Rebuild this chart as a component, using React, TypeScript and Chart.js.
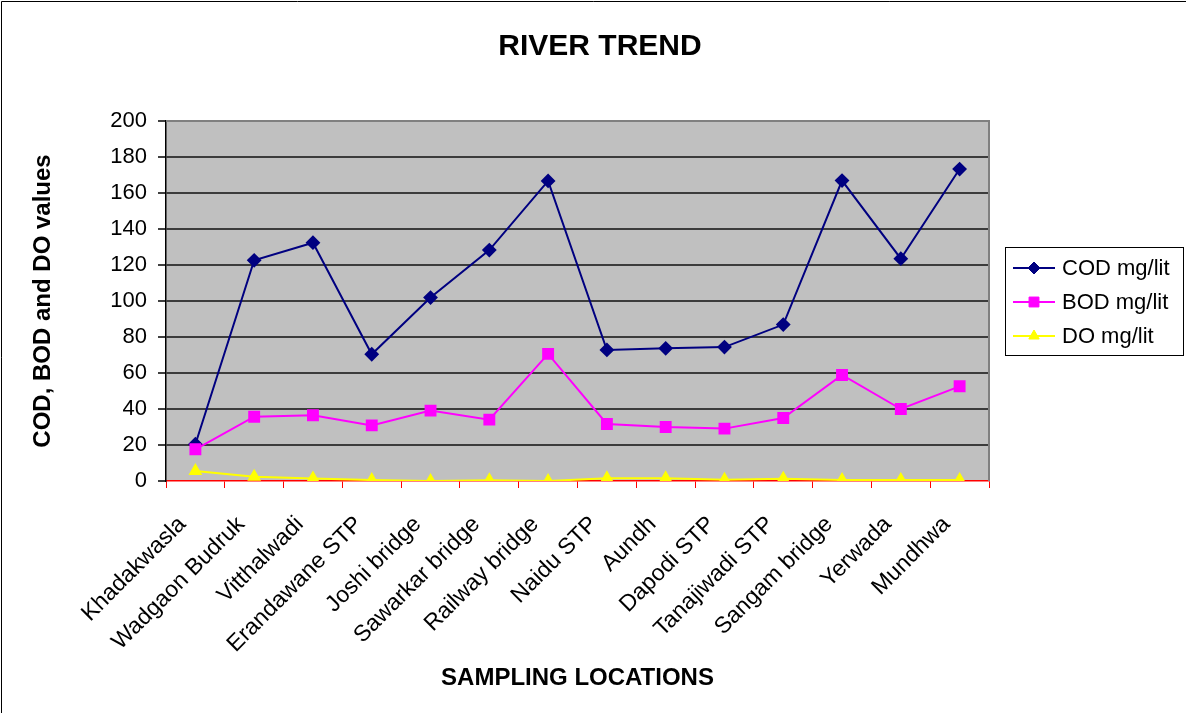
import { useEffect, useRef } from "react";
import { Chart, registerables } from "chart.js";

Chart.register(...registerables);

const categories = [
  "Khadakwasla",
  "Wadgaon Budruk",
  "Vitthalwadi",
  "Erandawane STP",
  "Joshi bridge",
  "Sawarkar bridge",
  "Railway bridge",
  "Naidu STP",
  "Aundh",
  "Dapodi STP",
  "Tanajiwadi STP",
  "Sangam bridge",
  "Yerwada",
  "Mundhwa",
];

const codValues = [20.4, 122.6, 132.4, 70.4, 101.9, 128.3, 166.7, 72.8, 73.7, 74.4, 86.9, 166.9, 123.5, 173.3];
const bodValues = [17.6, 35.7, 36.5, 30.9, 39.1, 34.1, 70.6, 31.7, 30.0, 29.1, 35.0, 58.9, 40.0, 52.6];
const doValues = [5.5, 2.4, 1.4, 0.5, 0.0, 0.4, 0.0, 1.5, 1.5, 0.7, 1.3, 0.6, 0.6, 0.6];

const seriesNames = ["COD mg/lit", "BOD mg/lit", "DO mg/lit"];
const yMin = 0;
const yMax = 200;
const yStep = 20;

const FONT = "'Liberation Sans', Arial, Helvetica, sans-serif";

function drawMarker(ctx: CanvasRenderingContext2D, style: string, r: number, x: number, y: number) {
  ctx.beginPath();
  if (style === "rectRot") {
    ctx.moveTo(x - r, y);
    ctx.lineTo(x, y - r);
    ctx.lineTo(x + r, y);
    ctx.lineTo(x, y + r);
    ctx.closePath();
  } else if (style === "rect") {
    const s = Math.SQRT1_2 * r;
    ctx.rect(x - s, y - s, 2 * s, 2 * s);
  } else {
    let rad = 0;
    ctx.moveTo(x + Math.sin(rad) * r, y - Math.cos(rad) * r);
    rad += (2 * Math.PI) / 3;
    ctx.lineTo(x + Math.sin(rad) * r, y - Math.cos(rad) * r);
    rad += (2 * Math.PI) / 3;
    ctx.lineTo(x + Math.sin(rad) * r, y - Math.cos(rad) * r);
    ctx.closePath();
  }
  ctx.fill();
  ctx.stroke();
}

export default function App() {
  const ref = useRef<HTMLCanvasElement>(null);

  useEffect(() => {
    document.body.style.margin = "0";
    const canvas = ref.current;
    if (!canvas) return;

    const decor = {
      id: "decor",
      beforeDraw(chart: any) {
        const { ctx, chartArea: a } = chart;
        ctx.save();
        ctx.fillStyle = "#ffffff";
        ctx.fillRect(0, 0, chart.width, chart.height);
        ctx.fillStyle = "#C0C0C0";
        ctx.fillRect(a.left, a.top, a.right - a.left, a.bottom - a.top);
        ctx.restore();
      },
      beforeDatasetsDraw(chart: any) {
        const { ctx, chartArea: a } = chart;
        ctx.save();
        ctx.strokeStyle = "#808080";
        ctx.lineWidth = 2;
        ctx.beginPath();
        ctx.moveTo(a.left, a.top);
        ctx.lineTo(a.right, a.top);
        ctx.lineTo(a.right, a.bottom);
        ctx.stroke();
        ctx.restore();
      },
      afterDraw(chart: any) {
        const { ctx } = chart;
        ctx.save();
        // outer frame (top & left visible)
        ctx.strokeStyle = "#000";
        ctx.lineWidth = 1;
        ctx.beginPath();
        ctx.moveTo(1.5, chart.height);
        ctx.lineTo(1.5, 1.5);
        ctx.lineTo(chart.width, 1.5);
        ctx.stroke();

        // legend
        const bx = 1005.5, by = 247.5, bw = 178, bh = 108;
        ctx.fillStyle = "#fff";
        ctx.fillRect(bx, by, bw, bh);
        ctx.strokeStyle = "#000";
        ctx.lineWidth = 1;
        ctx.strokeRect(bx, by, bw, bh);
        const rows = [268, 302, 336];
        chart.data.datasets.forEach((ds: any, i: number) => {
          const y = rows[i];
          ctx.strokeStyle = ds.borderColor;
          ctx.lineWidth = 2;
          ctx.beginPath();
          ctx.moveTo(1013, y);
          ctx.lineTo(1055, y);
          ctx.stroke();
          ctx.fillStyle = ds.pointBackgroundColor;
          ctx.strokeStyle = ds.pointBorderColor;
          ctx.lineWidth = 1;
          drawMarker(ctx, ds.pointStyle, ds.pointRadius, 1034, y);
          ctx.fillStyle = "#000";
          ctx.font = `22px ${FONT}`;
          ctx.textBaseline = "middle";
          ctx.textAlign = "left";
          ctx.fillText(ds.label, 1062, y + 1);
        });
        ctx.restore();
      },
    };

    const chart = new Chart(canvas, {
      type: "line",
      data: {
        labels: categories,
        datasets: [
          {
            label: seriesNames[0],
            data: codValues,
            borderColor: "#000080",
            backgroundColor: "#000080",
            pointBackgroundColor: "#000080",
            pointBorderColor: "#000080",
            pointStyle: "rectRot",
            pointRadius: 6,
            borderWidth: 2,
            order: 3,
          },
          {
            label: seriesNames[1],
            data: bodValues,
            borderColor: "#FF00FF",
            backgroundColor: "#FF00FF",
            pointBackgroundColor: "#FF00FF",
            pointBorderColor: "#FF00FF",
            pointStyle: "rect",
            pointRadius: 7,
            borderWidth: 2,
            order: 2,
          },
          {
            label: seriesNames[2],
            data: doValues,
            borderColor: "#FFFF00",
            backgroundColor: "#FFFF00",
            pointBackgroundColor: "#FFFF00",
            pointBorderColor: "#FFFF00",
            pointStyle: "triangle",
            pointRadius: 6,
            borderWidth: 2,
            order: 1,
          },
        ],
      },
      options: {
        responsive: false,
        devicePixelRatio: 1,
        animation: false,
        layout: { padding: { left: 14, right: 0, top: 0, bottom: 0 } },
        plugins: {
          legend: { display: false },
          tooltip: { enabled: false },
          title: {
            display: true,
            text: "RIVER TREND",
            color: "#000",
            font: { family: FONT, size: 30, weight: "bold" },
            padding: { top: 29, bottom: 56 },
          },
        },
        scales: {
          x: {
            type: "category",
            offset: true,
            grid: {
              offset: true,
              drawOnChartArea: false,
              drawTicks: true,
              tickLength: 7,
              color: "#FF0000",
              lineWidth: 1,
            },
            border: { color: "#FF0000", width: 1.5 },
            ticks: {
              autoSkip: false,
              maxRotation: 45,
              minRotation: 45,
              padding: 23,
              labelOffset: -13,
              color: "#000",
              font: { family: FONT, size: 23 },
            },
            title: {
              display: true,
              text: "SAMPLING LOCATIONS",
              color: "#000",
              font: { family: FONT, size: 24, weight: "bold" },
              padding: { top: 0, bottom: 20 },
            },
            afterFit: (s: any) => {
              s.height = 232;
            },
          },
          y: {
            min: yMin,
            max: yMax,
            ticks: {
              stepSize: yStep,
              padding: 11,
              color: "#000",
              font: { family: FONT, size: 22 },
            },
            grid: {
              color: (c: any) =>
                c.tick && (c.tick.value === yMin || c.tick.value === yMax) ? "rgba(0,0,0,0)" : "#3c3c3c",
              lineWidth: 2,
              tickLength: 8,
              tickColor: "#000",
              tickWidth: 1.5,
            },
            border: { color: "#000", width: 1.5 },
            title: {
              display: true,
              text: "COD, BOD and DO values",
              color: "#000",
              font: { family: FONT, size: 24, weight: "bold" },
              padding: { top: 15, bottom: 0 },
            },
            afterFit: (s: any) => {
              s.width = 152;
            },
          },
          // empty right-side box that reserves the legend's room
          yRight: {
            type: "linear",
            position: "right",
            display: true,
            grid: { display: false, drawOnChartArea: false },
            border: { display: false },
            ticks: { display: false },
            afterFit: (s: any) => {
              s.width = 197;
            },
          },
        },
      },
      plugins: [decor],
    } as any);

    return () => chart.destroy();
  }, []);

  return <canvas ref={ref} width={1186} height={713} style={{ display: "block" }} />;
}
